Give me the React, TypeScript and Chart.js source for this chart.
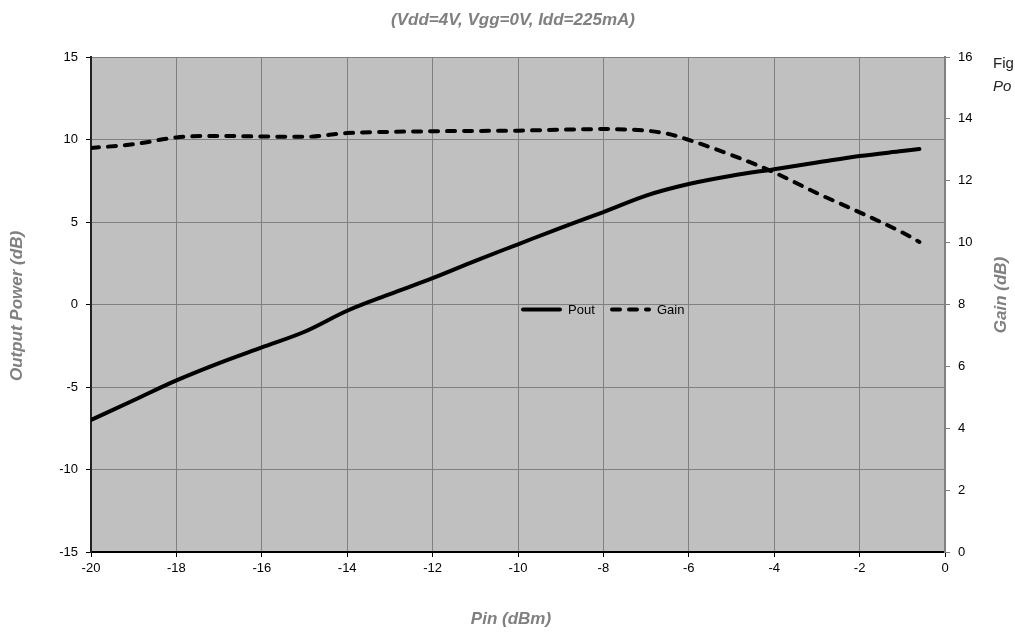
import { useEffect, useRef } from "react";
import { Chart, registerables } from "chart.js";

Chart.register(...registerables);

const chartTitle = "(Vdd=4V, Vgg=0V, Idd=225mA)";
const xAxisTitle = "Pin (dBm)";
const yAxisTitle = "Output Power (dB)";
const y2AxisTitle = "Gain (dB)";
const sideTextLine1 = "Fig";
const sideTextLine2 = "Po";

const poutPin = [-20, -19, -18, -17, -16, -15, -14, -13, -12, -11, -10, -9, -8, -7, -6, -5, -4, -3, -2, -1, -0.6];
const poutValues = [-7.0, -5.8, -4.6, -3.55, -2.6, -1.65, -0.38, 0.63, 1.6, 2.65, 3.65, 4.65, 5.6, 6.6, 7.3, 7.8, 8.2, 8.6, 9.0, 9.3, 9.42];

const gainPin = [-20, -19, -18, -17, -16, -15, -14, -13, -12, -11, -10, -9, -8, -7, -6.5, -6, -5, -4, -3, -2, -1, -0.6];
const gainValues = [13.06, 13.18, 13.4, 13.45, 13.43, 13.42, 13.54, 13.58, 13.6, 13.61, 13.62, 13.65, 13.67, 13.62, 13.52, 13.32, 12.83, 12.27, 11.6, 10.98, 10.33, 10.02];

const xMin = -20, xMax = 0, xStep = 2;
const yMin = -15, yMax = 15, yStep = 5;
const y2Min = 0, y2Max = 16, y2Step = 2;

const FONT = "'Liberation Sans', Arial, sans-serif";
const TITLE_GRAY = "#808080";

const textPlugin = {
  id: "customText",
  afterDraw(chart: any) {
    const ctx = chart.ctx;
    const area = chart.chartArea;
    ctx.save();
    ctx.fillStyle = TITLE_GRAY;
    ctx.font = `italic bold 17px ${FONT}`;
    ctx.textAlign = "center";
    ctx.textBaseline = "middle";
    ctx.fillText(chartTitle, 513, 20);
    ctx.fillText(xAxisTitle, 511, 619);
    ctx.save();
    ctx.translate(17, 306);
    ctx.rotate(-Math.PI / 2);
    ctx.fillText(yAxisTitle, 0, 0);
    ctx.restore();
    ctx.save();
    ctx.translate(1001, 295);
    ctx.rotate(-Math.PI / 2);
    ctx.fillText(y2AxisTitle, 0, 0);
    ctx.restore();

    ctx.fillStyle = "#222222";
    ctx.textAlign = "left";
    ctx.textBaseline = "alphabetic";
    ctx.font = `15px ${FONT}`;
    ctx.fillText(sideTextLine1, 993, 68);
    ctx.font = `italic 15px ${FONT}`;
    ctx.fillText(sideTextLine2, 993, 91);

    const ly = 309.5;
    const datasets = chart.data.datasets;
    let lx = 523;
    ctx.font = `13px ${FONT}`;
    ctx.textBaseline = "middle";
    datasets.forEach((ds: any, i: number) => {
      ctx.save();
      ctx.strokeStyle = ds.borderColor;
      ctx.lineWidth = 4;
      ctx.lineCap = "round";
      ctx.setLineDash(ds.borderDash || []);
      ctx.beginPath();
      ctx.moveTo(lx, ly);
      ctx.lineTo(lx + 37, ly);
      ctx.stroke();
      ctx.restore();
      ctx.fillStyle = "#000000";
      ctx.fillText(ds.label, lx + 45, ly + 1);
      lx += i === 0 ? 89 : 0;
    });
    ctx.restore();
  },
};

const bgPlugin = {
  id: "plotBg",
  beforeDraw(chart: any) {
    const { ctx, chartArea } = chart;
    ctx.save();
    ctx.fillStyle = "#C0C0C0";
    ctx.fillRect(chartArea.left, chartArea.top, chartArea.right - chartArea.left, chartArea.bottom - chartArea.top);
    ctx.restore();
  },
};

export default function App() {
  const ref = useRef<HTMLCanvasElement | null>(null);
  useEffect(() => {
    if (!ref.current) return;
    const chart = new Chart(ref.current, {
      type: "line",
      data: {
        datasets: [
          {
            label: "Pout",
            data: poutPin.map((x, i) => ({ x, y: poutValues[i] })),
            borderColor: "#000000",
            borderWidth: 4,
            pointRadius: 0,
            cubicInterpolationMode: "monotone",
            yAxisID: "y",
            borderCapStyle: "round",
          },
          {
            label: "Gain",
            data: gainPin.map((x, i) => ({ x, y: gainValues[i] })),
            borderColor: "#000000",
            borderWidth: 4,
            borderDash: [8, 9],
            borderCapStyle: "round",
            pointRadius: 0,
            cubicInterpolationMode: "monotone",
            yAxisID: "y2",
          },
        ],
      } as any,
      options: {
        animation: false,
        responsive: false,
        maintainAspectRatio: false,
        layout: { padding: { top: 57, left: 0, right: 0, bottom: 0 } },
        plugins: { legend: { display: false }, title: { display: false }, tooltip: { enabled: false } },
        scales: {
          x: {
            type: "linear",
            min: xMin,
            max: xMax,
            ticks: { stepSize: xStep, color: "#000", font: { family: FONT, size: 13 }, padding: 4, maxRotation: 0 },
            grid: { color: "#808080", lineWidth: 1, tickLength: 5, tickColor: "#000", drawOnChartArea: true },
            border: { color: "#000", width: 2 },
            afterFit: (s: any) => { s.height = 80; },
          },
          y: {
            type: "linear",
            position: "left",
            min: yMin,
            max: yMax,
            ticks: { stepSize: yStep, color: "#000", font: { family: FONT, size: 13 }, padding: 8 },
            grid: { color: "#808080", lineWidth: 1, tickLength: 5, tickColor: "#000" },
            border: { color: "#222", width: 2 },
            afterFit: (s: any) => { s.width = 91; },
          },
          y2: {
            type: "linear",
            position: "right",
            min: y2Min,
            max: y2Max,
            ticks: { stepSize: y2Step, color: "#000", font: { family: FONT, size: 13 }, padding: 8 },
            grid: { drawOnChartArea: false, tickLength: 5, tickColor: "#808080" },
            border: { color: "#808080", width: 2 },
            afterFit: (s: any) => { s.width = 70; },
          },
        },
      } as any,
      plugins: [bgPlugin, textPlugin],
    });
    return () => chart.destroy();
  }, []);
  return (
    <div style={{ position: "absolute", left: 0, top: 0, width: 1015, height: 632, background: "#fff", overflow: "hidden" }}>
      <canvas ref={ref} width={1015} height={632} style={{ display: "block" }} />
    </div>
  );
}
